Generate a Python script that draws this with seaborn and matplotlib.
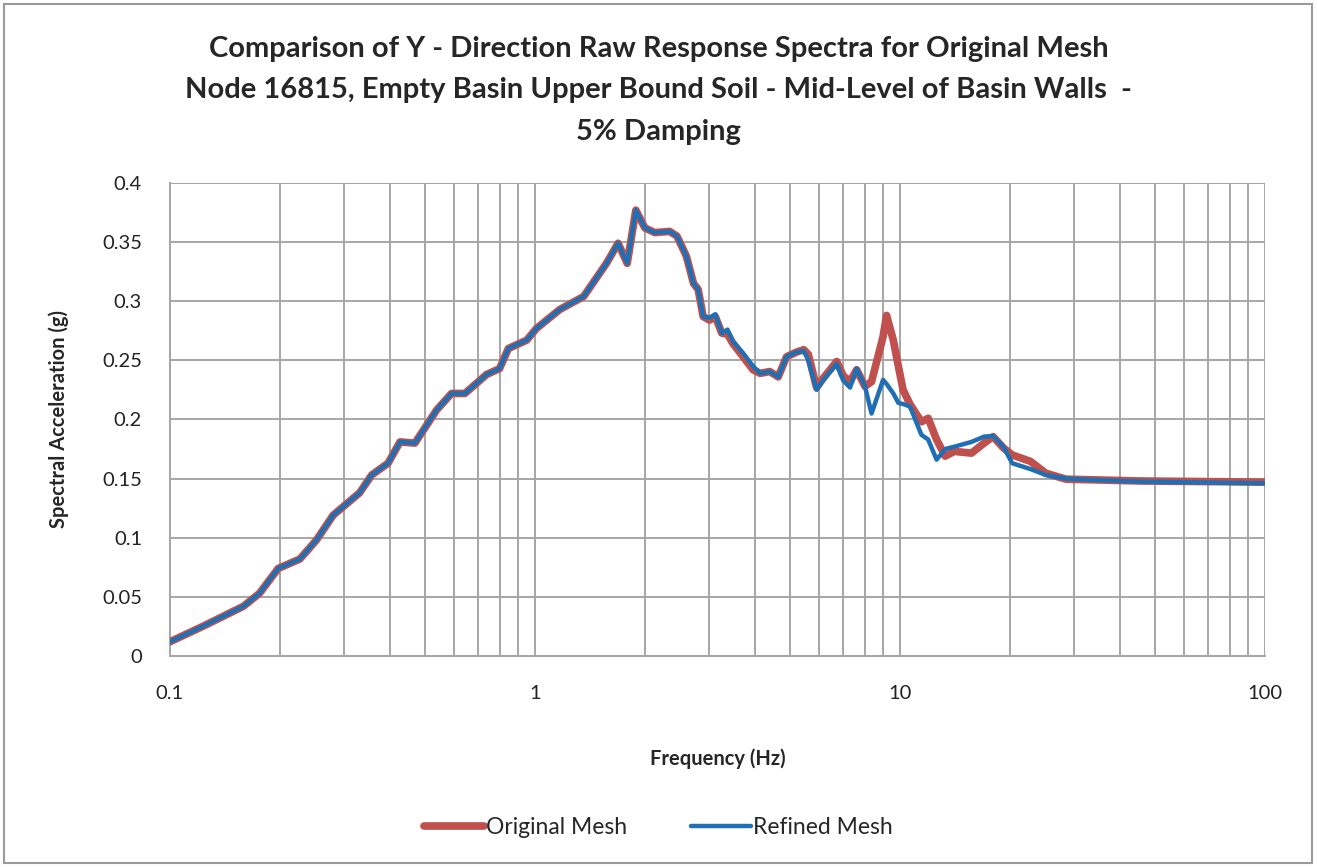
import numpy as np
import pandas as pd
import matplotlib.pyplot as plt
import matplotlib.patches as mpatches
from matplotlib.ticker import FixedLocator, NullFormatter
import seaborn as sns

# --- DATA ---
FREQ = [0.1, 0.123, 0.159, 0.176, 0.198, 0.227, 0.252, 0.280, 0.331, 0.357,
        0.396, 0.427, 0.469, 0.538, 0.591, 0.643, 0.737, 0.80, 0.846, 0.949,
        1.01, 1.17, 1.36, 1.57, 1.69, 1.79, 1.89, 2.0, 2.13, 2.34,
        2.45, 2.60, 2.72, 2.80, 2.89, 3.01, 3.12, 3.25, 3.37, 3.49,
        3.72, 3.96, 4.14, 4.40, 4.64, 4.89, 5.21, 5.45, 5.61, 5.91,
        6.17, 6.71, 6.99, 7.30, 7.61, 8.02, 8.36, 8.99, 9.19, 9.59,
        9.9, 10.2, 10.65, 11.45, 11.95, 12.6, 13.3, 14.1, 15.7, 17.0,
        18.0, 19.2, 20.3, 22.8, 25.1, 28.5, 33.3, 45.0, 100.0]

ORIGINAL = [0.012, 0.025, 0.042, 0.053, 0.074, 0.082, 0.098, 0.119, 0.138, 0.153,
            0.163, 0.181, 0.180, 0.208, 0.222, 0.222, 0.238, 0.243, 0.260, 0.267,
            0.277, 0.293, 0.304, 0.332, 0.349, 0.332, 0.377, 0.362, 0.358, 0.359,
            0.355, 0.338, 0.315, 0.310, 0.287, 0.284, 0.287, 0.273, 0.272, 0.264,
            0.253, 0.242, 0.239, 0.2405, 0.236, 0.253, 0.257, 0.259, 0.255, 0.227,
            0.235, 0.249, 0.237, 0.232, 0.242, 0.228, 0.232, 0.270, 0.288, 0.267,
            0.245, 0.225, 0.213, 0.198, 0.201, 0.183, 0.169, 0.173, 0.1715, 0.180,
            0.1855, 0.176, 0.170, 0.1645, 0.1545, 0.1495, 0.149, 0.148, 0.147]

REFINED = [0.012, 0.025, 0.042, 0.053, 0.074, 0.082, 0.098, 0.119, 0.138, 0.153,
           0.163, 0.181, 0.180, 0.208, 0.222, 0.222, 0.238, 0.243, 0.260, 0.267,
           0.277, 0.293, 0.304, 0.332, 0.349, 0.332, 0.377, 0.362, 0.358, 0.359,
           0.355, 0.338, 0.315, 0.310, 0.287, 0.286, 0.289, 0.273, 0.276, 0.266,
           0.256, 0.245, 0.239, 0.2405, 0.236, 0.253, 0.257, 0.258, 0.250, 0.225,
           0.2335, 0.247, 0.233, 0.227, 0.243, 0.228, 0.205, 0.2335, 0.230, 0.222,
           0.214, 0.213, 0.211, 0.187, 0.183, 0.166, 0.175, 0.177, 0.181, 0.1855,
           0.186, 0.177, 0.163, 0.158, 0.153, 0.150, 0.149, 0.1475, 0.146]

TITLE = ("Comparison of Y - Direction Raw Response Spectra for Original Mesh\n"
         "Node 16815, Empty Basin Upper Bound Soil - Mid-Level of Basin Walls  -\n"
         "5% Damping")
X_TICKS = [0.1, 1, 10, 100]
X_TICK_LABELS = ["0.1", "1", "10", "100"]
Y_TICKS = [0, 0.05, 0.1, 0.15, 0.2, 0.25, 0.3, 0.35, 0.4]
Y_TICK_LABELS = ["0", "0.05", "0.1", "0.15", "0.2", "0.25", "0.3", "0.35", "0.4"]

RED = "#c0504d"
BLUE = "#1f6fb5"
GRID = "#a6a6a6"

df = pd.DataFrame({"freq": FREQ, "Original Mesh": ORIGINAL, "Refined Mesh": REFINED})

# --- PLOT ---
sns.set_style("white")
plt.rcParams["font.family"] = ["Lato", "DejaVu Sans"]

fig = plt.figure(figsize=(13.17, 8.67), dpi=100)
ax = fig.add_axes([0.129, 0.2434, 0.8315, 0.5456])

sns.lineplot(data=df, x="freq", y="Original Mesh", ax=ax, color=RED, linewidth=5.5,
             label="Original Mesh", zorder=3)
sns.lineplot(data=df, x="freq", y="Refined Mesh", ax=ax, color=BLUE, linewidth=3.2,
             label="Refined Mesh", zorder=4)

ax.set_xscale("log")
ax.set_xlim(0.1, 100)
ax.set_ylim(0, 0.4)

ax.xaxis.set_major_locator(FixedLocator(X_TICKS))
ax.set_xticklabels(X_TICK_LABELS)
minor = [m * d for d in (0.1, 1, 10) for m in range(2, 10)]
ax.xaxis.set_minor_locator(FixedLocator(minor))
ax.xaxis.set_minor_formatter(NullFormatter())
ax.set_yticks(Y_TICKS)
ax.set_yticklabels(Y_TICK_LABELS)

ax.grid(True, which="both", axis="x", color=GRID, linewidth=1.4)
ax.grid(True, which="major", axis="y", color=GRID, linewidth=1.4)
ax.set_axisbelow(True)

for side in ["top", "right"]:
    ax.spines[side].set_visible(False)
for side in ["left", "bottom"]:
    ax.spines[side].set_color(GRID)
    ax.spines[side].set_linewidth(1.4)

ax.tick_params(axis="both", which="major", labelsize=14.5, colors="#222222",
               length=6, width=1.2, direction="out")
ax.tick_params(axis="x", which="major", pad=15, colors=GRID, labelcolor="#222222")
ax.tick_params(axis="y", which="major", pad=14, colors=GRID, labelcolor="#222222")
ax.tick_params(axis="x", which="minor", length=0)

ax.set_xlabel("Frequency (Hz)", fontsize=14.5, fontweight="bold", labelpad=33)
ax.set_ylabel("Spectral Acceleration (g)", fontsize=14.5, fontweight="bold", labelpad=24)

fig.suptitle(TITLE, fontsize=21, fontweight="bold", y=0.959, linespacing=1.74)

ax.legend(loc="center", bbox_to_anchor=(0.5, 0.045), bbox_transform=fig.transFigure,
          ncol=2, frameon=False, fontsize=16.5, handlelength=2.6, handletextpad=0.1,
          columnspacing=2.8)

# outer chart border
fig.patches.append(mpatches.Rectangle((0.003, 0.005), 0.993, 0.99, transform=fig.transFigure,
                                      fill=False, edgecolor="#9a9a9a", linewidth=1.5))

fig.savefig("out.png", dpi=100)
